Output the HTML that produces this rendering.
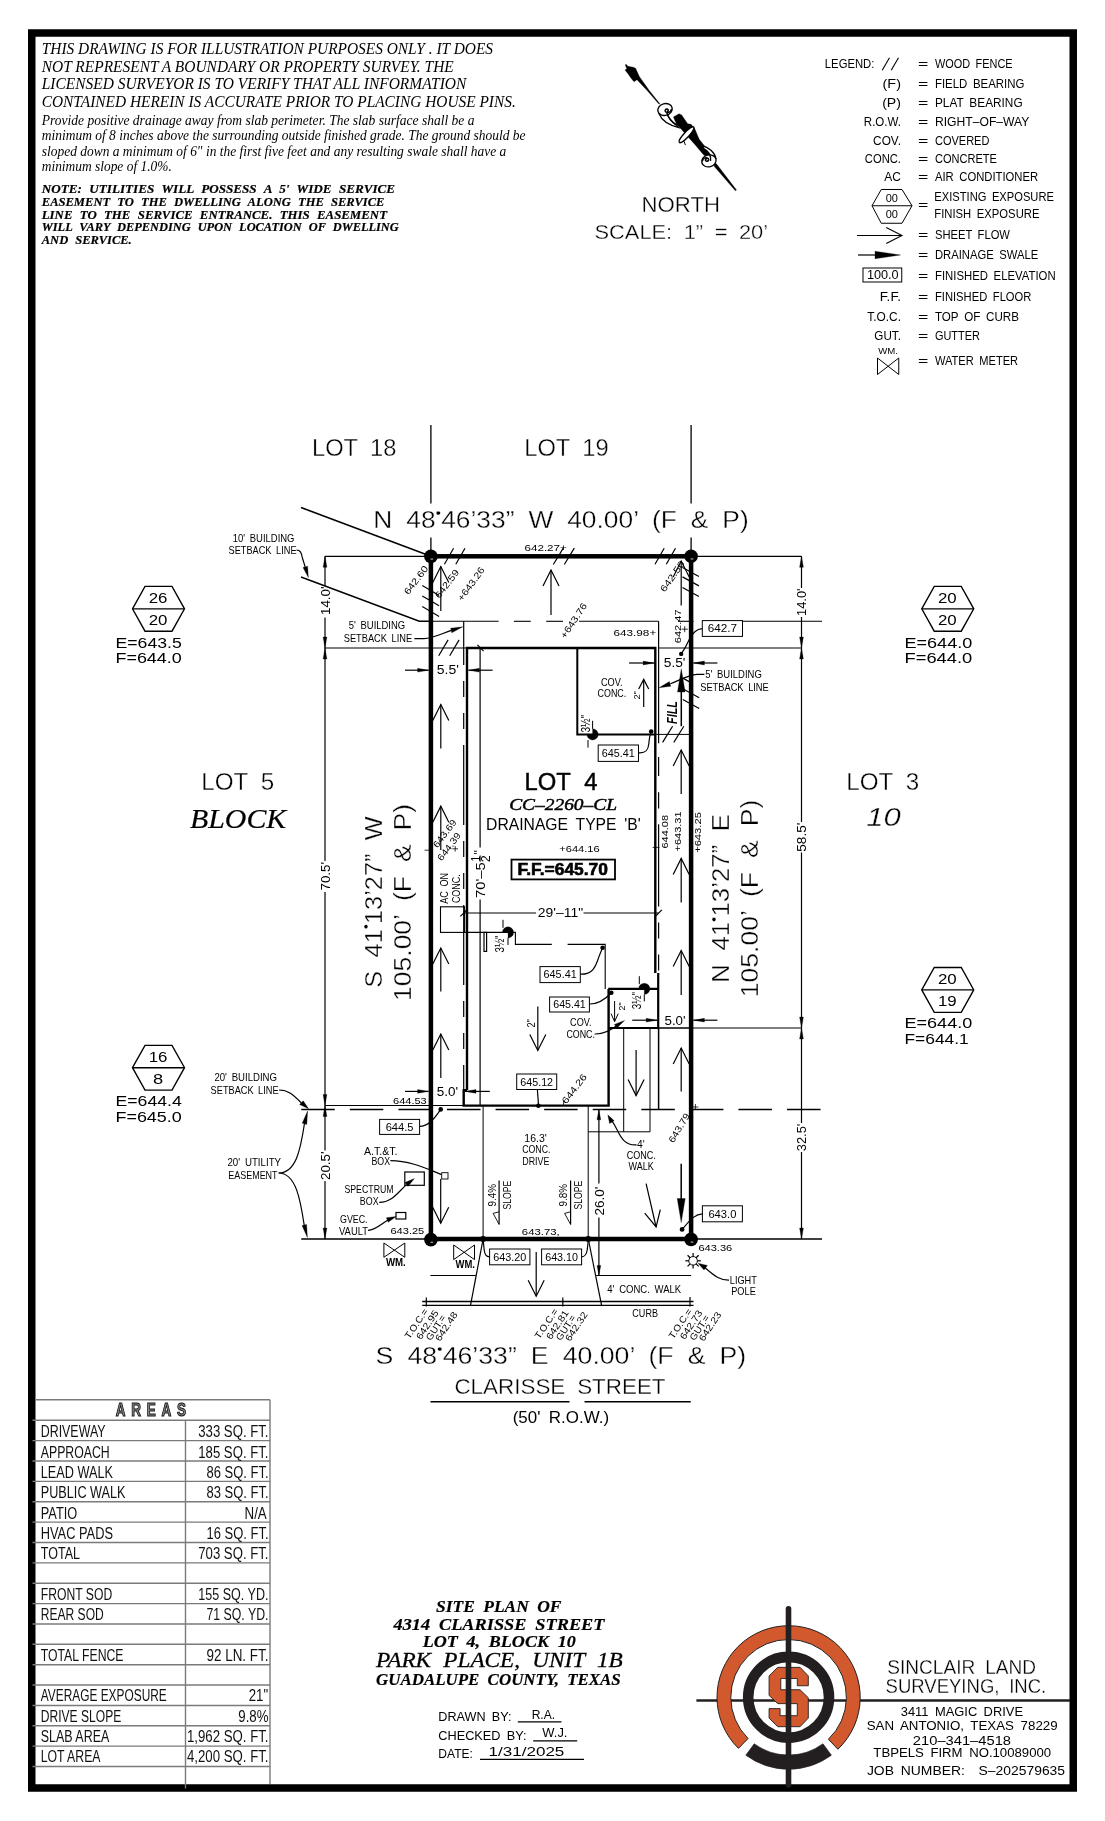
<!DOCTYPE html>
<html lang="en"><head><meta charset="utf-8"><title>Site Plan - 4314 Clarisse Street</title>
<style>
html,body{margin:0;padding:0;background:#fff;}
body{width:1105px;height:1821px;overflow:hidden;font-family:"Liberation Sans",sans-serif;}
svg{display:block;position:absolute;left:0;top:0;will-change:transform;}
text{fill:#000;stroke:none;}
.sa{font-family:"Liberation Sans",sans-serif;word-spacing:0.22em;}
.sab{font-family:"Liberation Sans",sans-serif;font-weight:bold;}
.sam{font-family:"Liberation Sans",sans-serif;stroke:#000;stroke-width:0.45px;word-spacing:0.3em;}
.seim{font-family:"Liberation Serif",serif;font-style:italic;stroke:#000;stroke-width:0.45px;}
.sabx{font-family:"Liberation Sans",sans-serif;font-weight:bold;stroke:#000;stroke-width:0.6px;}
.seim2{font-family:"Liberation Serif",serif;font-style:italic;stroke:#000;stroke-width:0.3px;word-spacing:6px;}
.seim3{font-family:"Liberation Serif",serif;font-style:italic;stroke:#000;stroke-width:0.2px;}
.sabi{font-family:"Liberation Sans",sans-serif;font-weight:bold;font-style:italic;}
.thin{font-family:"Liberation Sans",sans-serif;stroke:#fff;stroke-width:0.34px;word-spacing:0.25em;}
.thin2{font-family:"Liberation Sans",sans-serif;stroke:#fff;stroke-width:0.3px;word-spacing:0.25em;}
.thini{font-family:"Liberation Sans",sans-serif;font-style:italic;stroke:#fff;stroke-width:0.34px;}
.se{font-family:"Liberation Serif",serif;}
.sei{font-family:"Liberation Serif",serif;font-style:italic;}
.sebi{font-family:"Liberation Serif",serif;font-style:italic;font-weight:bold;word-spacing:4px;stroke:#000;stroke-width:0.2px;}
.tb{font-family:"Liberation Sans",sans-serif;fill:#111;}
.areas{font-family:"Liberation Sans",sans-serif;font-weight:bold;fill:#8a8a8a;stroke:#111;stroke-width:1.0px;}
</style></head>
<body>
<svg width="1105" height="1821" viewBox="0 0 1105 1821" stroke="#000" fill="none" stroke-linecap="butt">
<rect x="0" y="0" width="1105" height="1821" fill="#fff" stroke="none"/>
<rect x="31.75" y="33" width="1041.5" height="1755" fill="none" stroke="#000" stroke-width="7.5"/>
<text class="sei" x="41.75" y="54.25" font-size="16.5" textLength="451.25" lengthAdjust="spacingAndGlyphs">THIS DRAWING IS FOR ILLUSTRATION PURPOSES ONLY . IT DOES</text>
<text class="sei" x="41.75" y="71.75" font-size="16.5" textLength="412.00" lengthAdjust="spacingAndGlyphs">NOT REPRESENT A BOUNDARY OR PROPERTY SURVEY. THE</text>
<text class="sei" x="41.75" y="89.25" font-size="16.5" textLength="424.50" lengthAdjust="spacingAndGlyphs">LICENSED SURVEYOR IS TO VERIFY THAT ALL INFORMATION</text>
<text class="sei" x="41.75" y="106.75" font-size="16.5" textLength="474.00" lengthAdjust="spacingAndGlyphs">CONTAINED HEREIN IS ACCURATE PRIOR TO PLACING HOUSE PINS.</text>
<text class="sei" x="41.75" y="125.00" font-size="14" textLength="432.75" lengthAdjust="spacingAndGlyphs">Provide positive drainage away from slab perimeter. The slab surface shall be a</text>
<text class="sei" x="41.75" y="140.20" font-size="14" textLength="483.75" lengthAdjust="spacingAndGlyphs">minimum of 8 inches above the surrounding outside finished grade. The ground should be</text>
<text class="sei" x="41.75" y="155.50" font-size="14" textLength="464.50" lengthAdjust="spacingAndGlyphs">sloped down a minimum of 6" in the first five feet and any resulting swale shall have a</text>
<text class="sei" x="41.75" y="170.80" font-size="14" textLength="130.00" lengthAdjust="spacingAndGlyphs">minimum slope of 1.0%.</text>
<text class="sebi" x="41.75" y="192.50" font-size="12.5" textLength="353.25" lengthAdjust="spacingAndGlyphs" xml:space="preserve">NOTE: UTILITIES WILL POSSESS A 5' WIDE SERVICE</text>
<text class="sebi" x="41.75" y="205.50" font-size="12.5" textLength="342.75" lengthAdjust="spacingAndGlyphs" xml:space="preserve">EASEMENT TO THE DWELLING ALONG THE SERVICE</text>
<text class="sebi" x="41.75" y="218.50" font-size="12.5" textLength="345.25" lengthAdjust="spacingAndGlyphs" xml:space="preserve">LINE TO THE SERVICE ENTRANCE. THIS EASEMENT</text>
<text class="sebi" x="41.75" y="231.25" font-size="12.5" textLength="357.00" lengthAdjust="spacingAndGlyphs" xml:space="preserve">WILL VARY DEPENDING UPON LOCATION OF DWELLING</text>
<text class="sebi" x="41.75" y="244.25" font-size="12.5" textLength="90.00" lengthAdjust="spacingAndGlyphs" xml:space="preserve">AND SERVICE.</text>
<g id="north">
<path d="M625.88,64.05 L627.92,66.31 L633.35,67.22 L635.61,68.35 L639.46,76.72 L649.64,90.97 L659.82,103.64 L659.03,104.32 L646.92,90.29 L636.97,79.66 L634.03,81.70 L631.09,78.30 L628.14,74.00 L624.98,69.93 L626.79,68.80 L625.43,65.41 Z" stroke-width="0.3" fill="#000"/>
<path d="M673.39,116.99 L679.05,113.82 L681.65,114.95 L687.65,123.78 L691.04,124.23 L694.66,128.53 L699.19,139.28 L704.62,146.06 L710.50,153.64 L707.33,157.38 L703.26,154.55 L694.89,144.59 L687.87,136.67 L681.09,129.10 L676.56,124.23 Z" stroke-width="0.3" fill="#000"/>
<path d="M713.67,162.24 L716.38,163.82 L736.52,190.07 L735.38,190.75 L714.34,166.54 Z" stroke-width="0.3" fill="#000"/>
<path d="M659.03,113.82 C661.86,121.18 669.77,125.36 678.82,127.62 L676.56,125.14 C671.47,121.74 668.08,117.78 666.95,112.92 Z " stroke-width="1.3" fill="#fff"/>
<ellipse cx="665.02" cy="109.52" rx="7.3" ry="5.9" transform="rotate(-15 665.02 109.52)" fill="#fff" stroke-width="1.35"/>
<path d="M671.47,109.07 C671.13,112.13 668.08,113.26 665.70,111.90 C664.34,110.66 665.48,108.62 667.51,109.07 C668.87,109.75 668.42,111.56 666.83,111.33 " stroke-width="1.5" fill="none"/>
<path d="M666.83,112.92 C668.08,117.78 671.47,121.74 676.56,125.14 " stroke-width="1.5" fill="none"/>
<ellipse cx="686.52" cy="134.75" rx="10.6" ry="2.6" transform="rotate(-47 686.52 134.75)" fill="#fff" stroke-width="1.35"/>
<line x1="684.03" y1="141.20" x2="685.38" y2="145.05" stroke-width="1.0"/>
<path d="M715.93,158.51 C714.80,152.29 708.46,147.19 701.67,145.50 L704.28,149.12 C709.37,152.29 711.18,156.81 710.50,160.77 Z " stroke-width="1.3" fill="#fff"/>
<ellipse cx="708.91" cy="160.88" rx="7.3" ry="5.9" transform="rotate(-15 708.91 160.88)" fill="#fff" stroke-width="1.35"/>
<path d="M702.35,161.33 C702.58,158.17 705.75,157.04 708.01,158.39 C709.37,159.75 708.24,161.79 706.20,161.11 C704.84,160.43 705.52,158.62 706.88,159.07 " stroke-width="1.5" fill="none"/>
<path d="M710.50,160.77 C711.18,156.81 709.37,152.29 704.28,149.12 " stroke-width="1.5" fill="none"/>
</g>
<text class="thin" x="641.62" y="212.40" font-size="22.6" textLength="78.36" lengthAdjust="spacingAndGlyphs">NORTH</text>
<text class="thin" x="594.53" y="239.30" font-size="21" textLength="173.54" lengthAdjust="spacingAndGlyphs" xml:space="preserve">SCALE: 1” = 20’</text>
<text class="sa" x="824.85" y="68.00" font-size="13" textLength="49.55" lengthAdjust="spacingAndGlyphs">LEGEND:</text>
<line x1="882.20" y1="70.20" x2="889.50" y2="57.80" stroke-width="1.1"/>
<line x1="891.20" y1="70.20" x2="898.50" y2="57.80" stroke-width="1.1"/>
<text class="sa" x="917.95" y="68.00" font-size="13" textLength="10.30" lengthAdjust="spacingAndGlyphs">=</text>
<text class="sa" x="934.95" y="68.00" font-size="13" textLength="77.70" lengthAdjust="spacingAndGlyphs">WOOD FENCE</text>
<text class="sa" x="882.55" y="87.50" font-size="13" textLength="18.40" lengthAdjust="spacingAndGlyphs">(F)</text>
<text class="sa" x="917.95" y="87.50" font-size="13" textLength="10.30" lengthAdjust="spacingAndGlyphs">=</text>
<text class="sa" x="934.95" y="87.50" font-size="13" textLength="89.45" lengthAdjust="spacingAndGlyphs">FIELD BEARING</text>
<text class="sa" x="882.15" y="107.00" font-size="13" textLength="18.80" lengthAdjust="spacingAndGlyphs">(P)</text>
<text class="sa" x="917.95" y="107.00" font-size="13" textLength="10.30" lengthAdjust="spacingAndGlyphs">=</text>
<text class="sa" x="934.95" y="107.00" font-size="13" textLength="87.70" lengthAdjust="spacingAndGlyphs">PLAT BEARING</text>
<text class="sa" x="863.85" y="126.25" font-size="13" textLength="37.10" lengthAdjust="spacingAndGlyphs">R.O.W.</text>
<text class="sa" x="917.95" y="126.25" font-size="13" textLength="10.30" lengthAdjust="spacingAndGlyphs">=</text>
<text class="sa" x="934.95" y="126.25" font-size="13" textLength="94.45" lengthAdjust="spacingAndGlyphs">RIGHT–OF–WAY</text>
<text class="sa" x="873.10" y="144.50" font-size="13" textLength="27.85" lengthAdjust="spacingAndGlyphs">COV.</text>
<text class="sa" x="917.95" y="144.50" font-size="13" textLength="10.30" lengthAdjust="spacingAndGlyphs">=</text>
<text class="sa" x="934.95" y="144.50" font-size="13" textLength="54.45" lengthAdjust="spacingAndGlyphs">COVERED</text>
<text class="sa" x="864.85" y="163.00" font-size="13" textLength="36.10" lengthAdjust="spacingAndGlyphs">CONC.</text>
<text class="sa" x="917.95" y="163.00" font-size="13" textLength="10.30" lengthAdjust="spacingAndGlyphs">=</text>
<text class="sa" x="934.95" y="163.00" font-size="13" textLength="61.95" lengthAdjust="spacingAndGlyphs">CONCRETE</text>
<text class="sa" x="884.35" y="181.25" font-size="13" textLength="16.60" lengthAdjust="spacingAndGlyphs">AC</text>
<text class="sa" x="917.95" y="181.25" font-size="13" textLength="10.30" lengthAdjust="spacingAndGlyphs">=</text>
<text class="sa" x="934.95" y="181.25" font-size="13" textLength="103.20" lengthAdjust="spacingAndGlyphs">AIR CONDITIONER</text>
<path d="M872.00,205.75 L881.25,189.50 L902.00,189.50 L912.00,205.75 L902.00,223.25 L881.25,223.25 Z" stroke-width="1.0" fill="none"/>
<line x1="872.00" y1="205.75" x2="912.00" y2="205.75" stroke-width="1.0"/>
<text class="sa" x="891.75" y="202.40" font-size="11" text-anchor="middle">00</text>
<text class="sa" x="891.75" y="218.30" font-size="11" text-anchor="middle">00</text>
<text class="sa" x="917.95" y="209.30" font-size="13" textLength="10.30" lengthAdjust="spacingAndGlyphs">=</text>
<text class="sa" x="934.35" y="200.75" font-size="13" textLength="119.55" lengthAdjust="spacingAndGlyphs">EXISTING EXPOSURE</text>
<text class="sa" x="934.35" y="217.50" font-size="13" textLength="105.05" lengthAdjust="spacingAndGlyphs">FINISH EXPOSURE</text>
<line x1="857.00" y1="235.50" x2="902.00" y2="235.50" stroke-width="1.1"/>
<path d="M886.25,243.60 L902.00,235.50 L886.25,227.40" stroke-width="1.1" fill="none"/>
<text class="sa" x="917.95" y="239.25" font-size="13" textLength="10.30" lengthAdjust="spacingAndGlyphs">=</text>
<text class="sa" x="934.95" y="239.25" font-size="13" textLength="74.95" lengthAdjust="spacingAndGlyphs">SHEET FLOW</text>
<line x1="858.00" y1="255.00" x2="876.00" y2="255.00" stroke-width="1.2"/>
<path d="M900.50,255.00 L875.00,251.20 L875.00,258.80 Z" stroke-width="0.3" fill="#000"/>
<text class="sa" x="917.95" y="258.75" font-size="13" textLength="10.30" lengthAdjust="spacingAndGlyphs">=</text>
<text class="sa" x="934.95" y="258.75" font-size="13" textLength="103.20" lengthAdjust="spacingAndGlyphs">DRAINAGE SWALE</text>
<rect x="863.00" y="268.00" width="38.75" height="14.00" stroke-width="1.0" fill="none"/>
<text class="sa" x="866.90" y="279.40" font-size="12" textLength="31.70" lengthAdjust="spacingAndGlyphs">100.0</text>
<text class="sa" x="917.95" y="279.50" font-size="13" textLength="10.30" lengthAdjust="spacingAndGlyphs">=</text>
<text class="sa" x="934.95" y="279.50" font-size="13" textLength="120.70" lengthAdjust="spacingAndGlyphs">FINISHED ELEVATION</text>
<text class="sa" x="879.85" y="301.25" font-size="13" textLength="21.10" lengthAdjust="spacingAndGlyphs">F.F.</text>
<text class="sa" x="917.95" y="301.25" font-size="13" textLength="10.30" lengthAdjust="spacingAndGlyphs">=</text>
<text class="sa" x="934.95" y="301.25" font-size="13" textLength="96.45" lengthAdjust="spacingAndGlyphs">FINISHED FLOOR</text>
<text class="sa" x="867.35" y="321.25" font-size="13" textLength="33.60" lengthAdjust="spacingAndGlyphs">T.O.C.</text>
<text class="sa" x="917.95" y="321.25" font-size="13" textLength="10.30" lengthAdjust="spacingAndGlyphs">=</text>
<text class="sa" x="934.95" y="321.25" font-size="13" textLength="83.95" lengthAdjust="spacingAndGlyphs">TOP OF CURB</text>
<text class="sa" x="874.35" y="340.00" font-size="13" textLength="26.60" lengthAdjust="spacingAndGlyphs">GUT.</text>
<text class="sa" x="917.95" y="340.00" font-size="13" textLength="10.30" lengthAdjust="spacingAndGlyphs">=</text>
<text class="sa" x="934.95" y="340.00" font-size="13" textLength="44.95" lengthAdjust="spacingAndGlyphs">GUTTER</text>
<text class="sa" x="878.27" y="353.75" font-size="9.5" textLength="19.70" lengthAdjust="spacingAndGlyphs">WM.</text>
<path d="M877.50,358.00 L898.75,374.50 L898.75,358.00 L877.50,374.50 Z" stroke-width="1.0" fill="none"/>
<text class="sa" x="917.95" y="365.00" font-size="13" textLength="10.30" lengthAdjust="spacingAndGlyphs">=</text>
<text class="sa" x="934.95" y="365.00" font-size="13" textLength="83.20" lengthAdjust="spacingAndGlyphs">WATER METER</text>
<text class="thin" x="312.06" y="455.50" font-size="24.2" textLength="84.39" lengthAdjust="spacingAndGlyphs">LOT 18</text>
<text class="thin" x="524.31" y="455.50" font-size="24.2" textLength="84.39" lengthAdjust="spacingAndGlyphs">LOT 19</text>
<text class="thin" x="201.31" y="790.00" font-size="24.2" textLength="72.89" lengthAdjust="spacingAndGlyphs">LOT 5</text>
<text class="seim3" x="190.00" y="828.00" font-size="27" textLength="96.25" lengthAdjust="spacingAndGlyphs">BLOCK</text>
<text class="thin" x="846.31" y="790.00" font-size="24.2" textLength="72.89" lengthAdjust="spacingAndGlyphs">LOT 3</text>
<text class="thini" x="866.30" y="826.20" font-size="26" textLength="34.50" lengthAdjust="spacingAndGlyphs">10</text>
<text class="thin" x="373.31" y="528.00" font-size="24.2" textLength="375.39" lengthAdjust="spacingAndGlyphs" xml:space="preserve">N 48<tspan font-size="14.52" dy="-10.41">•</tspan><tspan dy="10.41">46’33” W 40.00’ (F &amp; P)</tspan></text>
<text class="thin" x="375.56" y="1364.25" font-size="24.2" textLength="370.64" lengthAdjust="spacingAndGlyphs" xml:space="preserve">S 48<tspan font-size="14.52" dy="-10.41">•</tspan><tspan dy="10.41">46’33” E 40.00’ (F &amp; P)</tspan></text>
<text class="thin" transform="translate(381.60,987.72) rotate(-90.00)" font-size="24.6" textLength="171.44" lengthAdjust="spacingAndGlyphs">S 41<tspan font-size="14.76" dy="-10.58">•</tspan><tspan dy="10.58">13’27” W</tspan></text>
<text class="thin" transform="translate(410.50,1000.92) rotate(-90.00)" font-size="24.6" textLength="197.04" lengthAdjust="spacingAndGlyphs">105.00’ (F &amp; P)</text>
<text class="thin" transform="translate(729.20,982.72) rotate(-90.00)" font-size="24.6" textLength="168.64" lengthAdjust="spacingAndGlyphs">N 41<tspan font-size="14.76" dy="-10.58">•</tspan><tspan dy="10.58">13’27” E</tspan></text>
<text class="thin" transform="translate(758.20,997.22) rotate(-90.00)" font-size="24.6" textLength="197.64" lengthAdjust="spacingAndGlyphs">105.00’ (F &amp; P)</text>
<text class="thin" x="454.42" y="1394.40" font-size="22.6" textLength="211.16" lengthAdjust="spacingAndGlyphs">CLARISSE STREET</text>
<line x1="430.50" y1="1401.75" x2="569.50" y2="1401.75" stroke-width="1.4"/>
<line x1="584.50" y1="1401.75" x2="690.75" y2="1401.75" stroke-width="1.4"/>
<text class="sa" x="512.69" y="1423.20" font-size="16.2" textLength="96.37" lengthAdjust="spacingAndGlyphs">(50' R.O.W.)</text>
<path d="M132.50,608.80 L145.00,586.40 L172.00,586.40 L184.50,608.80 L172.00,631.20 L145.00,631.20 Z" stroke-width="1.35" fill="none"/>
<line x1="132.50" y1="608.80" x2="184.50" y2="608.80" stroke-width="1.35"/>
<text class="sa" x="148.72" y="603.38" font-size="15.5" textLength="18.75" lengthAdjust="spacingAndGlyphs">26</text>
<text class="sa" x="148.72" y="624.98" font-size="15.5" textLength="18.75" lengthAdjust="spacingAndGlyphs">20</text>
<text class="sa" x="115.47" y="648.20" font-size="15.5" textLength="66.30" lengthAdjust="spacingAndGlyphs">E=643.5</text>
<text class="sa" x="115.47" y="663.40" font-size="15.5" textLength="66.30" lengthAdjust="spacingAndGlyphs">F=644.0</text>
<path d="M921.75,608.80 L934.25,586.40 L961.25,586.40 L973.75,608.80 L961.25,631.20 L934.25,631.20 Z" stroke-width="1.35" fill="none"/>
<line x1="921.75" y1="608.80" x2="973.75" y2="608.80" stroke-width="1.35"/>
<text class="sa" x="937.98" y="603.38" font-size="15.5" textLength="18.75" lengthAdjust="spacingAndGlyphs">20</text>
<text class="sa" x="937.98" y="624.98" font-size="15.5" textLength="18.75" lengthAdjust="spacingAndGlyphs">20</text>
<text class="sa" x="904.48" y="648.20" font-size="15.5" textLength="67.80" lengthAdjust="spacingAndGlyphs">E=644.0</text>
<text class="sa" x="904.48" y="663.40" font-size="15.5" textLength="67.80" lengthAdjust="spacingAndGlyphs">F=644.0</text>
<path d="M132.50,1067.70 L145.00,1045.30 L172.00,1045.30 L184.50,1067.70 L172.00,1090.10 L145.00,1090.10 Z" stroke-width="1.35" fill="none"/>
<line x1="132.50" y1="1067.70" x2="184.50" y2="1067.70" stroke-width="1.35"/>
<text class="sa" x="148.72" y="1062.28" font-size="15.5" textLength="18.75" lengthAdjust="spacingAndGlyphs">16</text>
<text class="sa" x="153.02" y="1083.88" font-size="15.5" textLength="10.15" lengthAdjust="spacingAndGlyphs">8</text>
<text class="sa" x="115.47" y="1106.25" font-size="15.5" textLength="66.30" lengthAdjust="spacingAndGlyphs">E=644.4</text>
<text class="sa" x="115.47" y="1122.00" font-size="15.5" textLength="66.30" lengthAdjust="spacingAndGlyphs">F=645.0</text>
<path d="M921.75,989.90 L934.25,967.50 L961.25,967.50 L973.75,989.90 L961.25,1012.30 L934.25,1012.30 Z" stroke-width="1.35" fill="none"/>
<line x1="921.75" y1="989.90" x2="973.75" y2="989.90" stroke-width="1.35"/>
<text class="sa" x="937.98" y="984.48" font-size="15.5" textLength="18.75" lengthAdjust="spacingAndGlyphs">20</text>
<text class="sa" x="937.98" y="1006.08" font-size="15.5" textLength="18.75" lengthAdjust="spacingAndGlyphs">19</text>
<text class="sa" x="904.48" y="1028.00" font-size="15.5" textLength="67.80" lengthAdjust="spacingAndGlyphs">E=644.0</text>
<text class="sa" x="904.48" y="1043.75" font-size="15.5" textLength="64.30" lengthAdjust="spacingAndGlyphs">F=644.1</text>
<line x1="430.90" y1="425.00" x2="430.90" y2="503.50" stroke-width="1.3"/>
<line x1="430.90" y1="537.50" x2="430.90" y2="556.30" stroke-width="1.3"/>
<line x1="691.10" y1="425.00" x2="691.10" y2="503.50" stroke-width="1.3"/>
<line x1="691.10" y1="537.50" x2="691.10" y2="556.30" stroke-width="1.3"/>
<line x1="301.00" y1="507.50" x2="430.90" y2="556.30" stroke-width="1.6"/>
<path d="M301.00,577.00 L419.30,621.30 L430.90,621.30" stroke-width="1.5" fill="none"/>
<line x1="325.00" y1="556.30" x2="430.90" y2="556.30" stroke-width="1.2"/>
<line x1="325.00" y1="648.00" x2="466.00" y2="648.00" stroke-width="1.2"/>
<line x1="325.00" y1="1105.50" x2="464.00" y2="1105.50" stroke-width="1.2"/>
<line x1="325.00" y1="556.30" x2="325.00" y2="586.00" stroke-width="1.2"/>
<line x1="325.00" y1="617.50" x2="325.00" y2="648.00" stroke-width="1.2"/>
<path d="M325.00,556.30 L326.90,567.30 L323.10,567.30 Z" stroke-width="0.3" fill="#000"/>
<path d="M325.00,648.00 L323.10,637.00 L326.90,637.00 Z" stroke-width="0.3" fill="#000"/>
<text class="sa" transform="translate(329.60,615.00) rotate(-90.00)" font-size="12.5" textLength="28.50" lengthAdjust="spacingAndGlyphs">14.0'</text>
<line x1="325.00" y1="648.00" x2="325.00" y2="861.00" stroke-width="1.2"/>
<line x1="325.00" y1="892.00" x2="325.00" y2="1105.50" stroke-width="1.2"/>
<path d="M325.00,648.00 L326.90,659.00 L323.10,659.00 Z" stroke-width="0.3" fill="#000"/>
<path d="M325.00,1105.50 L323.10,1094.50 L326.90,1094.50 Z" stroke-width="0.3" fill="#000"/>
<text class="sa" transform="translate(329.60,890.50) rotate(-90.00)" font-size="12.5" textLength="28.50" lengthAdjust="spacingAndGlyphs">70.5'</text>
<line x1="325.00" y1="1105.50" x2="325.00" y2="1150.50" stroke-width="1.2"/>
<line x1="325.00" y1="1181.00" x2="325.00" y2="1239.00" stroke-width="1.2"/>
<path d="M325.00,1105.50 L326.90,1116.50 L323.10,1116.50 Z" stroke-width="0.3" fill="#000"/>
<path d="M325.00,1239.00 L323.10,1228.00 L326.90,1228.00 Z" stroke-width="0.3" fill="#000"/>
<text class="sa" transform="translate(329.60,1180.00) rotate(-90.00)" font-size="12.5" textLength="28.50" lengthAdjust="spacingAndGlyphs">20.5'</text>
<line x1="301.25" y1="1239.00" x2="430.90" y2="1239.00" stroke-width="1.5"/>
<line x1="691.10" y1="556.30" x2="801.50" y2="556.30" stroke-width="1.2"/>
<line x1="658.50" y1="648.00" x2="801.50" y2="648.00" stroke-width="1.2"/>
<line x1="652.00" y1="1028.00" x2="801.50" y2="1028.00" stroke-width="1.2"/>
<line x1="691.10" y1="1239.00" x2="822.00" y2="1239.00" stroke-width="1.5"/>
<line x1="801.50" y1="556.30" x2="801.50" y2="588.00" stroke-width="1.2"/>
<line x1="801.50" y1="617.00" x2="801.50" y2="648.00" stroke-width="1.2"/>
<path d="M801.50,556.30 L803.40,567.30 L799.60,567.30 Z" stroke-width="0.3" fill="#000"/>
<path d="M801.50,648.00 L799.60,637.00 L803.40,637.00 Z" stroke-width="0.3" fill="#000"/>
<text class="sa" transform="translate(805.80,616.00) rotate(-90.00)" font-size="12.5" textLength="27.50" lengthAdjust="spacingAndGlyphs">14.0'</text>
<line x1="801.50" y1="648.00" x2="801.50" y2="822.00" stroke-width="1.2"/>
<line x1="801.50" y1="852.50" x2="801.50" y2="1028.00" stroke-width="1.2"/>
<path d="M801.50,648.00 L803.40,659.00 L799.60,659.00 Z" stroke-width="0.3" fill="#000"/>
<path d="M801.50,1028.00 L799.60,1017.00 L803.40,1017.00 Z" stroke-width="0.3" fill="#000"/>
<text class="sa" transform="translate(805.80,851.70) rotate(-90.00)" font-size="12.5" textLength="29.00" lengthAdjust="spacingAndGlyphs">58.5'</text>
<line x1="801.50" y1="1028.00" x2="801.50" y2="1123.00" stroke-width="1.2"/>
<line x1="801.50" y1="1152.00" x2="801.50" y2="1239.00" stroke-width="1.2"/>
<path d="M801.50,1028.00 L803.40,1039.00 L799.60,1039.00 Z" stroke-width="0.3" fill="#000"/>
<path d="M801.50,1239.00 L799.60,1228.00 L803.40,1228.00 Z" stroke-width="0.3" fill="#000"/>
<text class="sa" transform="translate(805.80,1151.25) rotate(-90.00)" font-size="12.5" textLength="27.50" lengthAdjust="spacingAndGlyphs">32.5'</text>
<line x1="430.90" y1="621.30" x2="498.60" y2="621.30" stroke-width="1.1"/>
<line x1="513.90" y1="621.30" x2="530.80" y2="621.30" stroke-width="1.1"/>
<line x1="546.20" y1="621.30" x2="563.00" y2="621.30" stroke-width="1.1"/>
<line x1="579.00" y1="621.30" x2="658.60" y2="621.30" stroke-width="1.1"/>
<line x1="678.00" y1="621.30" x2="693.50" y2="621.30" stroke-width="1.1"/>
<line x1="742.00" y1="621.30" x2="822.00" y2="621.30" stroke-width="1.1"/>
<line x1="463.70" y1="621.30" x2="463.70" y2="664.90" stroke-width="1.2"/>
<line x1="463.70" y1="680.90" x2="463.70" y2="696.90" stroke-width="1.2"/>
<line x1="463.70" y1="712.90" x2="463.70" y2="728.90" stroke-width="1.2"/>
<line x1="463.70" y1="744.90" x2="463.70" y2="824.90" stroke-width="1.2"/>
<line x1="463.70" y1="840.90" x2="463.70" y2="856.90" stroke-width="1.2"/>
<line x1="463.70" y1="872.90" x2="463.70" y2="888.90" stroke-width="1.2"/>
<line x1="463.70" y1="904.90" x2="463.70" y2="984.90" stroke-width="1.2"/>
<line x1="463.70" y1="1000.90" x2="463.70" y2="1016.90" stroke-width="1.2"/>
<line x1="463.70" y1="1032.90" x2="463.70" y2="1048.90" stroke-width="1.2"/>
<line x1="463.70" y1="1064.90" x2="463.70" y2="1092.00" stroke-width="1.2"/>
<line x1="658.60" y1="621.30" x2="658.60" y2="743.30" stroke-width="1.2"/>
<line x1="658.60" y1="757.00" x2="658.60" y2="776.00" stroke-width="1.2"/>
<line x1="658.60" y1="792.30" x2="658.60" y2="808.60" stroke-width="1.2"/>
<line x1="658.60" y1="824.20" x2="658.60" y2="906.50" stroke-width="1.2"/>
<line x1="658.60" y1="922.50" x2="658.60" y2="938.50" stroke-width="1.2"/>
<line x1="658.60" y1="954.50" x2="658.60" y2="970.50" stroke-width="1.2"/>
<line x1="658.20" y1="973.00" x2="658.20" y2="1028.00" stroke-width="2.2"/>
<line x1="658.60" y1="1028.00" x2="658.60" y2="1109.50" stroke-width="1.5"/>
<path d="M301.25,1109.5 H822" stroke-width="1.5" fill="none" stroke-dasharray="33.5 15.08"/>
<path d="M467.0,1090.1 V648.0 H655.3 V973" stroke-width="2.4" fill="none"/>
<path d="M467.0,1090.1 H463.7 V1105.6 H608.6 V989" stroke-width="2.4" fill="none"/>
<path d="M577.3,648 V734.4 H655.3" stroke-width="2.0" fill="none"/>
<line x1="655.30" y1="734.40" x2="691.10" y2="734.40" stroke-width="1.0"/>
<path d="M608.2,988.8 H658.6" stroke-width="2.3" fill="none"/>
<path d="M608.2,1028 H658.6" stroke-width="2.2" fill="none"/>
<line x1="658.60" y1="1028.00" x2="691.10" y2="1028.00" stroke-width="1.0"/>
<rect x="440.50" y="906.80" width="24.10" height="25.60" stroke-width="1.1" fill="none"/>
<path d="M464,932.4 H515.4 V944.4 H551.8 M567.6,944.4 H605.2 V989" stroke-width="1.1" fill="none"/>
<rect x="484.00" y="932.40" width="2.60" height="19.00" stroke-width="1.2" fill="none"/>
<path d="M623.7,1028 V1131.8 M650,1028 V1131.8" stroke-width="1.0" fill="none"/>
<line x1="588.20" y1="1131.80" x2="650.00" y2="1131.80" stroke-width="1.0"/>
<line x1="483.10" y1="1105.60" x2="483.10" y2="1239.00" stroke-width="1.0"/>
<line x1="588.20" y1="1105.60" x2="588.20" y2="1239.00" stroke-width="1.0"/>
<line x1="480.10" y1="648.00" x2="480.10" y2="847.50" stroke-width="1.2"/>
<line x1="480.10" y1="899.60" x2="480.10" y2="1105.60" stroke-width="1.2"/>
<line x1="477.40" y1="644.80" x2="483.60" y2="651.20" stroke-width="1.2"/>
<text class="sa" transform="translate(484.60,898.00) rotate(-90.00)" font-size="12.8" textLength="35.60" lengthAdjust="spacingAndGlyphs">70'–5</text>
<text class="sa" transform="translate(479.50,861.60) rotate(-90.00)" font-size="12.2" textLength="5.60" lengthAdjust="spacingAndGlyphs">1</text>
<text class="sa" transform="translate(490.00,862.20) rotate(-90.00)" font-size="12.2" textLength="7.00" lengthAdjust="spacingAndGlyphs">2</text>
<line x1="480.20" y1="861.80" x2="480.20" y2="855.40" stroke-width="0.9"/>
<text class="sa" transform="translate(483.10,854.40) rotate(-90.00)" font-size="12.2">"</text>
<line x1="463.70" y1="913.00" x2="536.00" y2="913.00" stroke-width="1.2"/>
<line x1="583.50" y1="913.00" x2="658.60" y2="913.00" stroke-width="1.2"/>
<line x1="460.40" y1="916.40" x2="466.80" y2="909.80" stroke-width="1.2"/>
<line x1="655.40" y1="916.40" x2="661.80" y2="909.80" stroke-width="1.2"/>
<text class="sa" x="537.88" y="917.40" font-size="12.5" textLength="45.25" lengthAdjust="spacingAndGlyphs">29'–11"</text>
<line x1="405.00" y1="670.20" x2="428.60" y2="670.20" stroke-width="1.2"/>
<path d="M428.60,670.20 L417.60,672.10 L417.60,668.30 Z" stroke-width="0.3" fill="#000"/>
<line x1="492.60" y1="670.20" x2="468.40" y2="670.20" stroke-width="1.2"/>
<path d="M468.40,670.20 L479.40,668.30 L479.40,672.10 Z" stroke-width="0.3" fill="#000"/>
<text class="sa" x="436.80" y="674.40" font-size="12" textLength="22.10" lengthAdjust="spacingAndGlyphs">5.5'</text>
<line x1="629.10" y1="663.00" x2="654.20" y2="663.00" stroke-width="1.2"/>
<path d="M654.20,663.00 L643.20,664.90 L643.20,661.10 Z" stroke-width="0.3" fill="#000"/>
<line x1="717.40" y1="663.00" x2="693.40" y2="663.00" stroke-width="1.2"/>
<path d="M693.40,663.00 L704.40,661.10 L704.40,664.90 Z" stroke-width="0.3" fill="#000"/>
<text class="sa" x="663.80" y="666.90" font-size="12" textLength="21.70" lengthAdjust="spacingAndGlyphs">5.5'</text>
<line x1="405.00" y1="1091.40" x2="428.60" y2="1091.40" stroke-width="1.2"/>
<path d="M428.60,1091.40 L417.60,1093.30 L417.60,1089.50 Z" stroke-width="0.3" fill="#000"/>
<line x1="489.80" y1="1091.40" x2="465.00" y2="1091.40" stroke-width="1.2"/>
<path d="M465.00,1091.40 L476.00,1089.50 L476.00,1093.30 Z" stroke-width="0.3" fill="#000"/>
<text class="sa" x="436.80" y="1095.80" font-size="12" textLength="21.30" lengthAdjust="spacingAndGlyphs">5.0'</text>
<line x1="632.20" y1="1020.20" x2="657.20" y2="1020.20" stroke-width="1.2"/>
<path d="M657.20,1020.20 L646.20,1022.10 L646.20,1018.30 Z" stroke-width="0.3" fill="#000"/>
<line x1="717.40" y1="1020.20" x2="693.40" y2="1020.20" stroke-width="1.2"/>
<path d="M693.40,1020.20 L704.40,1018.30 L704.40,1022.10 Z" stroke-width="0.3" fill="#000"/>
<text class="sa" x="664.50" y="1024.60" font-size="12" textLength="21.10" lengthAdjust="spacingAndGlyphs">5.0'</text>
<line x1="440.80" y1="611.00" x2="440.80" y2="566.50" stroke-width="1.2"/>
<path d="M448.80,582.50 L440.80,566.50 L432.80,582.50" stroke-width="1.2" fill="none"/>
<line x1="440.80" y1="748.60" x2="440.80" y2="704.60" stroke-width="1.2"/>
<path d="M448.80,720.60 L440.80,704.60 L432.80,720.60" stroke-width="1.2" fill="none"/>
<line x1="440.80" y1="850.00" x2="440.80" y2="806.20" stroke-width="1.2"/>
<path d="M448.80,822.20 L440.80,806.20 L432.80,822.20" stroke-width="1.2" fill="none"/>
<line x1="440.80" y1="991.60" x2="440.80" y2="948.00" stroke-width="1.2"/>
<path d="M448.80,964.00 L440.80,948.00 L432.80,964.00" stroke-width="1.2" fill="none"/>
<line x1="440.80" y1="1078.00" x2="440.80" y2="1034.00" stroke-width="1.2"/>
<path d="M448.80,1050.00 L440.80,1034.00 L432.80,1050.00" stroke-width="1.2" fill="none"/>
<line x1="440.70" y1="1179.00" x2="440.70" y2="1223.20" stroke-width="1.2"/>
<path d="M432.70,1207.20 L440.70,1223.20 L448.70,1207.20" stroke-width="1.2" fill="none"/>
<line x1="681.20" y1="605.40" x2="681.20" y2="561.00" stroke-width="1.2"/>
<path d="M689.20,577.00 L681.20,561.00 L673.20,577.00" stroke-width="1.2" fill="none"/>
<line x1="681.20" y1="794.00" x2="681.20" y2="750.00" stroke-width="1.2"/>
<path d="M689.20,766.00 L681.20,750.00 L673.20,766.00" stroke-width="1.2" fill="none"/>
<line x1="681.20" y1="902.60" x2="681.20" y2="858.40" stroke-width="1.2"/>
<path d="M689.20,874.40 L681.20,858.40 L673.20,874.40" stroke-width="1.2" fill="none"/>
<line x1="681.20" y1="995.00" x2="681.20" y2="950.60" stroke-width="1.2"/>
<path d="M689.20,966.60 L681.20,950.60 L673.20,966.60" stroke-width="1.2" fill="none"/>
<line x1="681.20" y1="1091.60" x2="681.20" y2="1048.00" stroke-width="1.2"/>
<path d="M689.20,1064.00 L681.20,1048.00 L673.20,1064.00" stroke-width="1.2" fill="none"/>
<line x1="551.00" y1="615.00" x2="551.00" y2="570.00" stroke-width="1.2"/>
<path d="M559.00,586.00 L551.00,570.00 L543.00,586.00" stroke-width="1.2" fill="none"/>
<line x1="643.70" y1="707.00" x2="643.70" y2="679.40" stroke-width="1.2"/>
<path d="M648.70,689.00 L643.70,679.40 L638.70,689.00" stroke-width="1.2" fill="none"/>
<line x1="537.80" y1="1006.40" x2="537.80" y2="1050.40" stroke-width="1.2"/>
<path d="M529.80,1034.40 L537.80,1050.40 L545.80,1034.40" stroke-width="1.2" fill="none"/>
<line x1="614.60" y1="1001.00" x2="614.60" y2="1021.60" stroke-width="1.0"/>
<path d="M611.00,1013.60 L614.60,1021.60 L618.20,1013.60" stroke-width="1.0" fill="none"/>
<line x1="636.10" y1="1050.00" x2="636.10" y2="1095.60" stroke-width="1.2"/>
<path d="M628.10,1079.60 L636.10,1095.60 L644.10,1079.60" stroke-width="1.2" fill="none"/>
<line x1="536.20" y1="1252.00" x2="536.20" y2="1296.20" stroke-width="1.2"/>
<path d="M528.20,1280.20 L536.20,1296.20 L544.20,1280.20" stroke-width="1.2" fill="none"/>
<line x1="646.10" y1="1183.60" x2="656.10" y2="1227.00" stroke-width="1.2"/>
<path d="M644.71,1213.20 L656.10,1227.00 L660.30,1209.61" stroke-width="1.2" fill="none"/>
<line x1="681.30" y1="691.00" x2="681.30" y2="726.20" stroke-width="1.5"/>
<path d="M681.30,668.80 L677.50,692.00 L685.10,692.00 Z" stroke-width="0.3" fill="#000"/>
<line x1="681.20" y1="1163.70" x2="681.20" y2="1199.00" stroke-width="1.5"/>
<path d="M681.20,1222.60 L677.20,1198.50 L685.20,1198.50 Z" stroke-width="0.3" fill="#000"/>
<text class="sabi" transform="translate(676.80,724.00) rotate(-90.00)" font-size="15.5" textLength="23.00" lengthAdjust="spacingAndGlyphs">FILL</text>
<line x1="444.40" y1="564.30" x2="453.60" y2="548.30" stroke-width="1.2"/>
<line x1="455.80" y1="564.30" x2="465.00" y2="548.30" stroke-width="1.2"/>
<line x1="655.00" y1="564.30" x2="664.20" y2="548.30" stroke-width="1.2"/>
<line x1="666.30" y1="564.30" x2="675.50" y2="548.30" stroke-width="1.2"/>
<line x1="553.30" y1="564.50" x2="563.30" y2="548.10" stroke-width="1.2"/>
<line x1="564.30" y1="564.50" x2="574.30" y2="548.10" stroke-width="1.2"/>
<line x1="422.30" y1="585.60" x2="439.10" y2="595.40" stroke-width="1.2"/>
<line x1="422.30" y1="595.90" x2="439.10" y2="605.70" stroke-width="1.2"/>
<line x1="422.30" y1="606.60" x2="439.10" y2="616.40" stroke-width="1.2"/>
<line x1="682.50" y1="567.50" x2="698.90" y2="576.50" stroke-width="1.2"/>
<line x1="682.50" y1="576.90" x2="698.90" y2="585.90" stroke-width="1.2"/>
<line x1="682.50" y1="587.50" x2="698.90" y2="596.50" stroke-width="1.2"/>
<line x1="682.80" y1="688.70" x2="699.20" y2="697.70" stroke-width="1.2"/>
<line x1="682.80" y1="699.50" x2="699.20" y2="708.50" stroke-width="1.2"/>
<line x1="682.80" y1="678.10" x2="691.00" y2="682.60" stroke-width="1.2"/>
<line x1="438.70" y1="655.70" x2="448.10" y2="639.90" stroke-width="1.2"/>
<line x1="449.70" y1="655.70" x2="459.10" y2="639.90" stroke-width="1.2"/>
<line x1="662.60" y1="742.40" x2="672.60" y2="726.20" stroke-width="1.2"/>
<line x1="673.80" y1="742.40" x2="683.80" y2="726.20" stroke-width="1.2"/>
<rect x="430.9" y="556.3" width="260.20000000000005" height="682.7" fill="none" stroke-width="4.5"/>
<circle cx="430.90" cy="556.40" r="6.8" fill="#000" stroke-width="0"/>
<rect x="430.50" y="558.60" width="2.6" height="0.9" fill="#ddd" stroke="none"/>
<circle cx="691.10" cy="556.30" r="6.8" fill="#000" stroke-width="0"/>
<rect x="690.70" y="558.50" width="2.6" height="0.9" fill="#ddd" stroke="none"/>
<circle cx="430.90" cy="1239.60" r="6.8" fill="#000" stroke-width="0"/>
<rect x="430.50" y="1241.80" width="2.6" height="0.9" fill="#ddd" stroke="none"/>
<circle cx="691.10" cy="1239.40" r="6.8" fill="#000" stroke-width="0"/>
<rect x="690.70" y="1241.60" width="2.6" height="0.9" fill="#ddd" stroke="none"/>
<circle cx="483.10" cy="1239.00" r="3" fill="#000" stroke-width="0"/>
<circle cx="588.30" cy="1239.00" r="3" fill="#000" stroke-width="0"/>
<path d="M592.6,734.4 L592.6,728.8 A5.6,5.6 0 1 1 587.0,734.4 Z" stroke-width="0.3" fill="#000"/>
<line x1="592.60" y1="720.80" x2="592.60" y2="728.80" stroke-width="1.0"/>
<line x1="588.00" y1="740.00" x2="588.00" y2="747.60" stroke-width="1.0"/>
<text class="sa" transform="translate(589.60,732.60) rotate(-90.00)" font-size="12" textLength="17.60" lengthAdjust="spacingAndGlyphs">3½"</text>
<path d="M508,932.4 L502.4,932.4 A5.6,5.6 0 1 1 508,938.0 Z" stroke-width="0.3" fill="#000"/>
<line x1="503.00" y1="919.80" x2="503.00" y2="927.80" stroke-width="1.0"/>
<line x1="508.00" y1="938.00" x2="508.00" y2="945.00" stroke-width="1.0"/>
<text class="sa" transform="translate(503.60,952.60) rotate(-90.00)" font-size="12" textLength="17.20" lengthAdjust="spacingAndGlyphs">3½"</text>
<path d="M644.3,988.8 L638.6999999999999,988.8 A5.6,5.6 0 1 1 644.3,994.4 Z" stroke-width="0.3" fill="#000"/>
<line x1="639.30" y1="976.20" x2="639.30" y2="984.20" stroke-width="1.0"/>
<line x1="644.30" y1="994.40" x2="644.30" y2="1001.40" stroke-width="1.0"/>
<text class="sa" transform="translate(641.20,1009.30) rotate(-90.00)" font-size="12" textLength="17.20" lengthAdjust="spacingAndGlyphs">3½"</text>
<rect x="598.20" y="745.00" width="40.30" height="16.40" stroke-width="1.0" fill="#fff"/>
<text class="sa" x="601.83" y="757.02" font-size="11.5" textLength="33.05" lengthAdjust="spacingAndGlyphs">645.41</text>
<path d="M638.5,752.8 C646,753.5 648.2,750 648.8,744 C649.2,739 650,734.6 651.2,731.6" stroke-width="1.2" fill="none"/>
<circle cx="651.20" cy="731.50" r="2.3" fill="#000" stroke-width="0"/>
<rect x="702.30" y="620.60" width="40.20" height="15.80" stroke-width="1.0" fill="#fff"/>
<text class="sa" x="707.72" y="632.32" font-size="11.5" textLength="29.35" lengthAdjust="spacingAndGlyphs">642.7</text>
<path d="M702.3,628.6 C695.5,629 692,633.5 689,640 C686.5,645.5 684,650 681.3,653.8" stroke-width="1.2" fill="none"/>
<circle cx="681.20" cy="653.90" r="2.2" fill="#000" stroke-width="0"/>
<rect x="540.00" y="966.60" width="40.30" height="16.00" stroke-width="1.0" fill="#fff"/>
<text class="sa" x="543.62" y="978.42" font-size="11.5" textLength="33.05" lengthAdjust="spacingAndGlyphs">645.41</text>
<path d="M580.3,974.2 C591,974.6 594.6,969 597.4,961 C599.4,955.4 601,951 602.6,948" stroke-width="1.2" fill="none"/>
<circle cx="602.60" cy="947.80" r="2.3" fill="#000" stroke-width="0"/>
<rect x="549.60" y="997.00" width="39.80" height="15.00" stroke-width="1.0" fill="#fff"/>
<text class="sa" x="553.23" y="1008.32" font-size="11.5" textLength="32.55" lengthAdjust="spacingAndGlyphs">645.41</text>
<path d="M589.4,1004 C598,1004.2 604,1000.6 611.2,993" stroke-width="1.2" fill="none"/>
<circle cx="611.30" cy="992.80" r="2.3" fill="#000" stroke-width="0"/>
<rect x="516.70" y="1074.00" width="40.00" height="15.50" stroke-width="1.0" fill="#fff"/>
<text class="sa" x="520.33" y="1085.57" font-size="11.5" textLength="32.75" lengthAdjust="spacingAndGlyphs">645.12</text>
<path d="M537.4,1089.5 C537.6,1095 538.4,1100 538.4,1105.6" stroke-width="1.2" fill="none"/>
<circle cx="538.40" cy="1105.80" r="2.3" fill="#000" stroke-width="0"/>
<rect x="379.60" y="1119.40" width="40.00" height="15.00" stroke-width="1.0" fill="#fff"/>
<text class="sa" x="385.63" y="1130.72" font-size="11.5" textLength="27.95" lengthAdjust="spacingAndGlyphs">644.5</text>
<path d="M419.6,1126.4 C428,1126.2 433,1120.6 440.6,1109.6" stroke-width="1.2" fill="none"/>
<circle cx="440.70" cy="1109.40" r="2.3" fill="#000" stroke-width="0"/>
<rect x="489.60" y="1249.00" width="40.30" height="15.80" stroke-width="1.0" fill="#fff"/>
<text class="sa" x="493.23" y="1260.72" font-size="11.5" textLength="33.05" lengthAdjust="spacingAndGlyphs">643.20</text>
<path d="M489.6,1256.8 C485.6,1256.8 484.6,1254 484.2,1250 L483.3,1241" stroke-width="1.2" fill="none"/>
<rect x="541.60" y="1249.00" width="40.00" height="15.80" stroke-width="1.0" fill="#fff"/>
<text class="sa" x="545.23" y="1260.72" font-size="11.5" textLength="32.75" lengthAdjust="spacingAndGlyphs">643.10</text>
<path d="M581.6,1256.8 C585.6,1256.8 586.6,1254 587.2,1250 L588.2,1241" stroke-width="1.2" fill="none"/>
<rect x="702.40" y="1205.80" width="40.00" height="16.00" stroke-width="1.0" fill="#fff"/>
<text class="sa" x="708.42" y="1217.62" font-size="11.5" textLength="27.95" lengthAdjust="spacingAndGlyphs">643.0</text>
<path d="M702.4,1213.8 C695,1214 690.8,1219.4 682.2,1229.2" stroke-width="1.2" fill="none"/>
<circle cx="682.10" cy="1229.40" r="2.4" fill="#000" stroke-width="0"/>
<rect x="511.50" y="859.60" width="103.50" height="19.80" stroke-width="1.8" fill="#fff"/>
<text class="sabx" x="517.57" y="875.40" font-size="16.5" textLength="90.36" lengthAdjust="spacingAndGlyphs">F.F.=645.70</text>
<text class="sam" x="524.50" y="790.30" font-size="24" textLength="72.90" lengthAdjust="spacingAndGlyphs">LOT 4</text>
<text class="seim" x="509.20" y="810.30" font-size="16.4" textLength="107.80" lengthAdjust="spacingAndGlyphs">CC–2260–CL</text>
<text class="sa" x="486.10" y="830.30" font-size="16" textLength="154.70" lengthAdjust="spacingAndGlyphs">DRAINAGE TYPE 'B'</text>
<text class="sa" x="600.92" y="685.90" font-size="11.5" textLength="21.65" lengthAdjust="spacingAndGlyphs">COV.</text>
<text class="sa" x="597.62" y="697.40" font-size="11.5" textLength="28.65" lengthAdjust="spacingAndGlyphs">CONC.</text>
<text class="sa" transform="translate(640.20,699.60) rotate(-90.00)" font-size="9.5" textLength="8.50" lengthAdjust="spacingAndGlyphs">2"</text>
<text class="sa" x="570.12" y="1026.40" font-size="11.5" textLength="21.45" lengthAdjust="spacingAndGlyphs">COV.</text>
<text class="sa" x="566.42" y="1038.20" font-size="11.5" textLength="28.55" lengthAdjust="spacingAndGlyphs">CONC.</text>
<path d="M594.6,1034 C604,1034.4 612,1029.6 618,1024.8" stroke-width="1.2" fill="none"/>
<path d="M624.60,1020.40 L614.40,1024.40 L617.20,1027.80 Z" stroke-width="0.3" fill="#000"/>
<text class="sa" transform="translate(535.20,1027.60) rotate(-90.00)" font-size="10" textLength="8.50" lengthAdjust="spacingAndGlyphs">2"</text>
<text class="sa" transform="translate(624.60,1010.40) rotate(-90.00)" font-size="9" textLength="8.00" lengthAdjust="spacingAndGlyphs">2"</text>
<text class="sa" transform="translate(447.60,903.73) rotate(-90.00)" font-size="10.5" textLength="30.85" lengthAdjust="spacingAndGlyphs">AC ON</text>
<text class="sa" transform="translate(459.70,903.12) rotate(-90.00)" font-size="10.5" textLength="28.85" lengthAdjust="spacingAndGlyphs">CONC.</text>
<text class="sa" x="524.32" y="1141.60" font-size="11.5" textLength="22.45" lengthAdjust="spacingAndGlyphs">16.3'</text>
<text class="sa" x="522.22" y="1153.00" font-size="11.5" textLength="28.15" lengthAdjust="spacingAndGlyphs">CONC.</text>
<text class="sa" x="522.22" y="1164.80" font-size="11.5" textLength="27.15" lengthAdjust="spacingAndGlyphs">DRIVE</text>
<text class="sa" x="637.12" y="1147.80" font-size="11.5" textLength="7.65" lengthAdjust="spacingAndGlyphs">4'</text>
<text class="sa" x="626.82" y="1158.80" font-size="11.5" textLength="29.05" lengthAdjust="spacingAndGlyphs">CONC.</text>
<text class="sa" x="628.62" y="1169.70" font-size="11.5" textLength="25.25" lengthAdjust="spacingAndGlyphs">WALK</text>
<path d="M636.6,1144.8 C626,1145.6 621.4,1139 617.2,1130 C615,1125.4 612.6,1121.6 610.6,1118.8" stroke-width="1.2" fill="none"/>
<path d="M607.80,1114.80 L609.60,1123.60 L614.20,1120.80 Z" stroke-width="0.3" fill="#000"/>
<text class="sa" x="607.32" y="1292.90" font-size="11.5" textLength="73.85" lengthAdjust="spacingAndGlyphs" xml:space="preserve">4' CONC. WALK</text>
<text class="sa" x="632.32" y="1317.40" font-size="11.5" textLength="25.65" lengthAdjust="spacingAndGlyphs">CURB</text>
<text class="sa" x="729.82" y="1283.90" font-size="11.5" textLength="26.95" lengthAdjust="spacingAndGlyphs">LIGHT</text>
<text class="sa" x="731.22" y="1295.30" font-size="11.5" textLength="24.55" lengthAdjust="spacingAndGlyphs">POLE</text>
<path d="M729,1280.1 C718,1280.4 712,1273 704.6,1267.6" stroke-width="1.2" fill="none"/>
<path d="M698.00,1263.20 L704.00,1270.00 L707.40,1265.40 Z" stroke-width="0.3" fill="#000"/>
<circle cx="693.10" cy="1260.80" r="4.3" fill="#fff" stroke-width="1.0"/>
<line x1="697.40" y1="1260.80" x2="700.90" y2="1260.80" stroke-width="1.2"/>
<line x1="696.14" y1="1263.84" x2="698.62" y2="1266.32" stroke-width="1.2"/>
<line x1="693.10" y1="1265.10" x2="693.10" y2="1268.60" stroke-width="1.2"/>
<line x1="690.06" y1="1263.84" x2="687.58" y2="1266.32" stroke-width="1.2"/>
<line x1="688.80" y1="1260.80" x2="685.30" y2="1260.80" stroke-width="1.2"/>
<line x1="690.06" y1="1257.76" x2="687.58" y2="1255.28" stroke-width="1.2"/>
<line x1="693.10" y1="1256.50" x2="693.10" y2="1253.00" stroke-width="1.2"/>
<line x1="696.14" y1="1257.76" x2="698.62" y2="1255.28" stroke-width="1.2"/>
<text class="sa" transform="translate(495.90,1206.53) rotate(-90.00)" font-size="10.5" textLength="22.45" lengthAdjust="spacingAndGlyphs">9.4%</text>
<line x1="499.10" y1="1180.60" x2="499.10" y2="1224.40" stroke-width="1.2"/>
<path d="M499.10,1211.80 L493.10,1213.40 L499.10,1224.40" stroke-width="0.9" fill="none"/>
<text class="sa" transform="translate(510.50,1209.53) rotate(-90.00)" font-size="10.5" textLength="28.85" lengthAdjust="spacingAndGlyphs">SLOPE</text>
<text class="sa" transform="translate(567.20,1206.53) rotate(-90.00)" font-size="10.5" textLength="22.45" lengthAdjust="spacingAndGlyphs">9.8%</text>
<line x1="570.60" y1="1180.60" x2="570.60" y2="1224.40" stroke-width="1.2"/>
<path d="M570.60,1211.80 L564.60,1213.40 L570.60,1224.40" stroke-width="0.9" fill="none"/>
<text class="sa" transform="translate(581.50,1209.53) rotate(-90.00)" font-size="10.5" textLength="28.85" lengthAdjust="spacingAndGlyphs">SLOPE</text>
<line x1="598.90" y1="1109.50" x2="598.90" y2="1183.60" stroke-width="1.2"/>
<line x1="598.90" y1="1217.40" x2="598.90" y2="1275.40" stroke-width="1.2"/>
<path d="M598.90,1109.80 L600.80,1119.80 L597.00,1119.80 Z" stroke-width="0.3" fill="#000"/>
<path d="M598.90,1275.40 L597.00,1265.40 L600.80,1265.40 Z" stroke-width="0.3" fill="#000"/>
<text class="sa" transform="translate(603.60,1215.40) rotate(-90.00)" font-size="12.5" textLength="28.80" lengthAdjust="spacingAndGlyphs">26.0'</text>
<text class="sa" x="232.73" y="542.00" font-size="11.5" textLength="61.75" lengthAdjust="spacingAndGlyphs">10' BUILDING</text>
<text class="sa" x="228.53" y="554.30" font-size="11.5" textLength="68.05" lengthAdjust="spacingAndGlyphs">SETBACK LINE</text>
<path d="M296.4,550 C300.6,550 301.4,553 302.4,558 L305.4,567.6" stroke-width="1.2" fill="none"/>
<path d="M308.40,577.60 L303.00,567.40 L307.60,566.20 Z" stroke-width="0.3" fill="#000"/>
<text class="sa" x="348.73" y="628.70" font-size="11.5" textLength="56.45" lengthAdjust="spacingAndGlyphs">5' BUILDING</text>
<text class="sa" x="343.73" y="641.80" font-size="11.5" textLength="68.35" lengthAdjust="spacingAndGlyphs">SETBACK LINE</text>
<path d="M414.4,638.7 H424 C432,638.5 440,634.4 451.4,630.4" stroke-width="1.2" fill="none"/>
<path d="M462.80,626.80 L450.60,628.20 L451.80,632.80 Z" stroke-width="0.3" fill="#000"/>
<text class="sa" x="705.22" y="678.00" font-size="11.5" textLength="56.55" lengthAdjust="spacingAndGlyphs">5' BUILDING</text>
<text class="sa" x="700.22" y="691.20" font-size="11.5" textLength="68.55" lengthAdjust="spacingAndGlyphs">SETBACK LINE</text>
<path d="M704.4,674.4 H697 C688,675 679,680.6 670.4,683.8" stroke-width="1.2" fill="none"/>
<path d="M659.00,687.80 L670.80,686.20 L669.40,681.60 Z" stroke-width="0.3" fill="#000"/>
<text class="sa" x="214.43" y="1081.40" font-size="11.5" textLength="62.55" lengthAdjust="spacingAndGlyphs">20' BUILDING</text>
<text class="sa" x="210.62" y="1093.80" font-size="11.5" textLength="67.95" lengthAdjust="spacingAndGlyphs">SETBACK LINE</text>
<path d="M279,1090 C288,1090 293,1094.6 301.4,1103" stroke-width="1.2" fill="none"/>
<path d="M308.60,1108.80 L299.60,1104.60 L303.20,1100.80 Z" stroke-width="0.3" fill="#000"/>
<text class="sa" x="227.43" y="1165.80" font-size="11.5" textLength="53.65" lengthAdjust="spacingAndGlyphs">20' UTILITY</text>
<text class="sa" x="228.23" y="1178.80" font-size="11.5" textLength="49.35" lengthAdjust="spacingAndGlyphs">EASEMENT</text>
<path d="M278.6,1173 C296,1173 300.4,1150 304.4,1124" stroke-width="1.2" fill="none"/>
<path d="M307.60,1111.00 L302.20,1123.20 L306.80,1124.40 Z" stroke-width="0.3" fill="#000"/>
<path d="M278.6,1173 C296,1173 300.4,1200 304.2,1225" stroke-width="1.2" fill="none"/>
<path d="M307.40,1237.60 L302.00,1225.60 L306.60,1224.40 Z" stroke-width="0.3" fill="#000"/>
<text class="sa" x="364.03" y="1154.70" font-size="11.5" textLength="33.45" lengthAdjust="spacingAndGlyphs">A.T.&amp;T.</text>
<text class="sa" x="371.43" y="1165.40" font-size="11.5" textLength="18.65" lengthAdjust="spacingAndGlyphs">BOX</text>
<path d="M390.4,1160.7 C410,1160.8 425,1168 441.6,1174.6" stroke-width="1.2" fill="none"/>
<rect x="441.70" y="1172.70" width="6.30" height="6.30" stroke-width="0.9" fill="#fff"/>
<text class="sa" x="344.43" y="1193.30" font-size="11.5" textLength="49.15" lengthAdjust="spacingAndGlyphs">SPECTRUM</text>
<text class="sa" x="359.82" y="1205.20" font-size="11.5" textLength="18.75" lengthAdjust="spacingAndGlyphs">BOX</text>
<path d="M379.2,1202.4 C392,1202.6 398,1192 406.6,1184.6" stroke-width="1.2" fill="none"/>
<path d="M414.40,1178.60 L404.80,1182.60 L408.00,1186.40 Z" stroke-width="0.3" fill="#000"/>
<rect x="404.80" y="1172.00" width="19.50" height="13.30" stroke-width="1.2" fill="none"/>
<text class="sa" x="340.03" y="1222.60" font-size="11.5" textLength="27.55" lengthAdjust="spacingAndGlyphs">GVEC.</text>
<text class="sa" x="339.03" y="1234.60" font-size="11.5" textLength="28.95" lengthAdjust="spacingAndGlyphs">VAULT</text>
<path d="M368,1230.4 C376,1230.2 381,1224 388.4,1219.8" stroke-width="1.2" fill="none"/>
<path d="M396.20,1216.40 L386.40,1217.80 L388.20,1222.20 Z" stroke-width="0.3" fill="#000"/>
<rect x="396.00" y="1212.50" width="9.80" height="6.50" stroke-width="1.2" fill="none"/>
<path d="M383.90,1243.00 L404.80,1257.30 L404.80,1243.00 L383.90,1257.30 Z" stroke-width="1.0" fill="none"/>
<text class="sab" x="385.90" y="1266.30" font-size="10" textLength="19.90" lengthAdjust="spacingAndGlyphs">WM.</text>
<path d="M453.70,1245.00 L474.50,1259.60 L474.50,1245.00 L453.70,1259.60 Z" stroke-width="1.0" fill="none"/>
<text class="sab" x="455.60" y="1268.00" font-size="10" textLength="19.40" lengthAdjust="spacingAndGlyphs">WM.</text>
<line x1="483.10" y1="1239.00" x2="470.50" y2="1305.40" stroke-width="1.2"/>
<line x1="588.30" y1="1239.00" x2="601.60" y2="1305.40" stroke-width="1.2"/>
<line x1="430.40" y1="1275.50" x2="475.80" y2="1275.50" stroke-width="1.0"/>
<line x1="596.20" y1="1275.50" x2="691.10" y2="1275.50" stroke-width="1.0"/>
<line x1="422.20" y1="1301.50" x2="693.50" y2="1301.50" stroke-width="1.35"/>
<line x1="422.20" y1="1305.30" x2="693.50" y2="1305.30" stroke-width="1.35"/>
<line x1="426.30" y1="1297.60" x2="426.30" y2="1306.60" stroke-width="1.2"/>
<line x1="562.80" y1="1297.60" x2="562.80" y2="1306.60" stroke-width="1.2"/>
<line x1="690.00" y1="1297.00" x2="690.00" y2="1306.60" stroke-width="1.2"/>
<text class="sa" transform="translate(409.58,1339.39) rotate(-55.84)" font-size="9.4" textLength="33.84" lengthAdjust="spacingAndGlyphs">T.O.C.=</text>
<text class="sa" transform="translate(420.91,1340.25) rotate(-56.74)" font-size="9.4" textLength="33.01" lengthAdjust="spacingAndGlyphs">642.95</text>
<text class="sa" transform="translate(430.81,1341.14) rotate(-56.76)" font-size="9.4" textLength="28.10" lengthAdjust="spacingAndGlyphs">GUT.=</text>
<text class="sa" transform="translate(439.91,1342.05) rotate(-56.74)" font-size="9.4" textLength="33.01" lengthAdjust="spacingAndGlyphs">642.48</text>
<text class="sa" transform="translate(539.58,1339.39) rotate(-55.84)" font-size="9.4" textLength="33.84" lengthAdjust="spacingAndGlyphs">T.O.C.=</text>
<text class="sa" transform="translate(550.91,1340.25) rotate(-56.74)" font-size="9.4" textLength="33.01" lengthAdjust="spacingAndGlyphs">642.81</text>
<text class="sa" transform="translate(560.81,1341.14) rotate(-56.76)" font-size="9.4" textLength="28.10" lengthAdjust="spacingAndGlyphs">GUT.=</text>
<text class="sa" transform="translate(569.91,1342.05) rotate(-56.74)" font-size="9.4" textLength="33.01" lengthAdjust="spacingAndGlyphs">642.32</text>
<text class="sa" transform="translate(673.38,1339.39) rotate(-55.84)" font-size="9.4" textLength="33.84" lengthAdjust="spacingAndGlyphs">T.O.C.=</text>
<text class="sa" transform="translate(684.71,1340.25) rotate(-56.74)" font-size="9.4" textLength="33.01" lengthAdjust="spacingAndGlyphs">642.73</text>
<text class="sa" transform="translate(694.61,1341.14) rotate(-56.76)" font-size="9.4" textLength="28.10" lengthAdjust="spacingAndGlyphs">GUT.=</text>
<text class="sa" transform="translate(703.71,1342.05) rotate(-56.74)" font-size="9.4" textLength="33.01" lengthAdjust="spacingAndGlyphs">642.23</text>
<text class="sa" transform="translate(408.45,595.31) rotate(-52.79)" font-size="9.3" textLength="33.40" lengthAdjust="spacingAndGlyphs">642.60</text>
<text class="sa" transform="translate(439.45,599.11) rotate(-52.79)" font-size="9.3" textLength="33.40" lengthAdjust="spacingAndGlyphs">642.59</text>
<text class="sa" transform="translate(462.30,601.64) rotate(-54.27)" font-size="9.3" textLength="39.05" lengthAdjust="spacingAndGlyphs">+643.26</text>
<text class="sa" transform="translate(565.17,639.24) rotate(-56.35)" font-size="9.3" textLength="40.24" lengthAdjust="spacingAndGlyphs">+643.76</text>
<text class="sa" transform="translate(664.73,592.71) rotate(-54.97)" font-size="9.3" textLength="35.54" lengthAdjust="spacingAndGlyphs">642.50</text>
<text class="sa" transform="translate(437.46,848.60) rotate(-53.09)" font-size="9.3" textLength="32.64" lengthAdjust="spacingAndGlyphs">643.69</text>
<text class="sa" transform="translate(441.86,861.60) rotate(-53.13)" font-size="9.3" textLength="32.50" lengthAdjust="spacingAndGlyphs">644.39</text>
<line x1="452.40" y1="848.80" x2="458.00" y2="848.80" stroke-width="0.8"/>
<line x1="455.20" y1="846.00" x2="455.20" y2="851.60" stroke-width="0.8"/>
<line x1="424.60" y1="850.20" x2="433.00" y2="850.20" stroke-width="0.8"/>
<text class="sa" transform="translate(566.35,1104.62) rotate(-52.73)" font-size="9.3" textLength="34.68" lengthAdjust="spacingAndGlyphs">644.26</text>
<line x1="563.60" y1="1101.00" x2="563.60" y2="1106.00" stroke-width="0.8"/>
<text class="sa" transform="translate(673.45,1143.52) rotate(-58.80)" font-size="9.3" textLength="32.62" lengthAdjust="spacingAndGlyphs">643.79</text>
<line x1="692.40" y1="1107.00" x2="698.40" y2="1107.00" stroke-width="0.8"/>
<line x1="695.40" y1="1104.00" x2="695.40" y2="1110.00" stroke-width="0.8"/>
<text class="sa" transform="translate(680.60,643.26) rotate(-90.00)" font-size="9.3" textLength="33.93" lengthAdjust="spacingAndGlyphs">642.47</text>
<line x1="681.60" y1="629.20" x2="687.80" y2="629.20" stroke-width="0.8"/>
<line x1="684.70" y1="626.20" x2="684.70" y2="632.20" stroke-width="0.8"/>
<text class="sa" transform="translate(668.20,848.47) rotate(-90.00)" font-size="9.3" textLength="33.43" lengthAdjust="spacingAndGlyphs">644.08</text>
<line x1="652.60" y1="847.40" x2="659.40" y2="847.40" stroke-width="0.8"/>
<text class="sa" transform="translate(680.50,851.47) rotate(-90.00)" font-size="9.3" textLength="40.03" lengthAdjust="spacingAndGlyphs">+643.31</text>
<text class="sa" transform="translate(701.10,852.87) rotate(-90.00)" font-size="9.3" textLength="40.73" lengthAdjust="spacingAndGlyphs">+643.25</text>
<text class="sa" x="524.53" y="550.80" font-size="9.3" textLength="42.33" lengthAdjust="spacingAndGlyphs">642.27+</text>
<text class="sa" x="613.53" y="635.90" font-size="9.3" textLength="42.73" lengthAdjust="spacingAndGlyphs">643.98+</text>
<text class="sa" x="559.24" y="852.30" font-size="9.3" textLength="40.43" lengthAdjust="spacingAndGlyphs">+644.16</text>
<text class="sa" x="393.04" y="1103.60" font-size="9.3" textLength="33.73" lengthAdjust="spacingAndGlyphs">644.53</text>
<text class="sa" x="390.44" y="1233.80" font-size="9.3" textLength="33.83" lengthAdjust="spacingAndGlyphs">643.25</text>
<text class="sa" x="521.83" y="1235.40" font-size="9.3" textLength="37.83" lengthAdjust="spacingAndGlyphs">643.73,</text>
<text class="sa" x="698.43" y="1251.40" font-size="9.3" textLength="33.83" lengthAdjust="spacingAndGlyphs">643.36</text>
<g stroke="#7a7a7a" stroke-width="1.4">
<line x1="35.5" y1="1399.8" x2="270.0" y2="1399.8"/>
<line x1="32.5" y1="1420.25" x2="270.0" y2="1420.25"/>
<line x1="32.5" y1="1440.62" x2="270.0" y2="1440.62"/>
<line x1="32.5" y1="1460.99" x2="270.0" y2="1460.99"/>
<line x1="32.5" y1="1481.36" x2="270.0" y2="1481.36"/>
<line x1="32.5" y1="1501.73" x2="270.0" y2="1501.73"/>
<line x1="32.5" y1="1522.10" x2="270.0" y2="1522.10"/>
<line x1="32.5" y1="1542.47" x2="270.0" y2="1542.47"/>
<line x1="32.5" y1="1562.84" x2="270.0" y2="1562.84"/>
<line x1="32.5" y1="1583.21" x2="270.0" y2="1583.21"/>
<line x1="32.5" y1="1603.58" x2="270.0" y2="1603.58"/>
<line x1="32.5" y1="1623.95" x2="270.0" y2="1623.95"/>
<line x1="32.5" y1="1644.32" x2="270.0" y2="1644.32"/>
<line x1="32.5" y1="1664.69" x2="270.0" y2="1664.69"/>
<line x1="32.5" y1="1685.06" x2="270.0" y2="1685.06"/>
<line x1="32.5" y1="1705.43" x2="270.0" y2="1705.43"/>
<line x1="32.5" y1="1725.80" x2="270.0" y2="1725.80"/>
<line x1="32.5" y1="1746.17" x2="270.0" y2="1746.17"/>
<line x1="32.5" y1="1766.54" x2="270.0" y2="1766.54"/>
<line x1="270.0" y1="1399.8" x2="270.0" y2="1784"/>
<line x1="185.5" y1="1420.25" x2="185.5" y2="1788.5"/>
</g>
<text class="areas" transform="translate(115.8,1415.6) scale(0.76,1)" font-size="17.8" textLength="92.4" lengthAdjust="spacing">AREAS</text>
<text class="tb" x="40.75" y="1437.30" font-size="16.75" textLength="64.75" lengthAdjust="spacingAndGlyphs">DRIVEWAY</text>
<text class="tb" x="198.25" y="1437.30" font-size="16.75" textLength="70.25" lengthAdjust="spacingAndGlyphs">333 SQ. FT.</text>
<text class="tb" x="40.75" y="1457.61" font-size="16.75" textLength="69.00" lengthAdjust="spacingAndGlyphs">APPROACH</text>
<text class="tb" x="198.25" y="1457.61" font-size="16.75" textLength="70.25" lengthAdjust="spacingAndGlyphs">185 SQ. FT.</text>
<text class="tb" x="40.75" y="1477.92" font-size="16.75" textLength="72.25" lengthAdjust="spacingAndGlyphs">LEAD WALK</text>
<text class="tb" x="206.50" y="1477.92" font-size="16.75" textLength="62.00" lengthAdjust="spacingAndGlyphs">86 SQ. FT.</text>
<text class="tb" x="40.75" y="1498.23" font-size="16.75" textLength="84.75" lengthAdjust="spacingAndGlyphs">PUBLIC WALK</text>
<text class="tb" x="206.50" y="1498.23" font-size="16.75" textLength="62.00" lengthAdjust="spacingAndGlyphs">83 SQ. FT.</text>
<text class="tb" x="40.75" y="1518.54" font-size="16.75" textLength="36.50" lengthAdjust="spacingAndGlyphs">PATIO</text>
<text class="tb" x="244.50" y="1518.54" font-size="16.75" textLength="22.25" lengthAdjust="spacingAndGlyphs">N/A</text>
<text class="tb" x="40.75" y="1538.85" font-size="16.75" textLength="72.25" lengthAdjust="spacingAndGlyphs">HVAC PADS</text>
<text class="tb" x="206.50" y="1538.85" font-size="16.75" textLength="62.00" lengthAdjust="spacingAndGlyphs">16 SQ. FT.</text>
<text class="tb" x="40.75" y="1559.16" font-size="16.75" textLength="39.25" lengthAdjust="spacingAndGlyphs">TOTAL</text>
<text class="tb" x="198.25" y="1559.16" font-size="16.75" textLength="70.25" lengthAdjust="spacingAndGlyphs">703 SQ. FT.</text>
<text class="tb" x="40.75" y="1599.78" font-size="16.75" textLength="71.50" lengthAdjust="spacingAndGlyphs">FRONT SOD</text>
<text class="tb" x="198.25" y="1599.78" font-size="16.75" textLength="70.25" lengthAdjust="spacingAndGlyphs">155 SQ. YD.</text>
<text class="tb" x="40.75" y="1620.09" font-size="16.75" textLength="63.00" lengthAdjust="spacingAndGlyphs">REAR SOD</text>
<text class="tb" x="206.50" y="1620.09" font-size="16.75" textLength="62.00" lengthAdjust="spacingAndGlyphs">71 SQ. YD.</text>
<text class="tb" x="40.75" y="1660.71" font-size="16.75" textLength="82.75" lengthAdjust="spacingAndGlyphs">TOTAL FENCE</text>
<text class="tb" x="206.50" y="1660.71" font-size="16.75" textLength="62.00" lengthAdjust="spacingAndGlyphs">92 LN. FT.</text>
<text class="tb" x="40.75" y="1701.33" font-size="16.75" textLength="126.00" lengthAdjust="spacingAndGlyphs">AVERAGE EXPOSURE</text>
<text class="tb" x="248.75" y="1701.33" font-size="16.75" textLength="19.36" lengthAdjust="spacingAndGlyphs">21"</text>
<text class="tb" x="40.75" y="1721.64" font-size="16.75" textLength="80.50" lengthAdjust="spacingAndGlyphs">DRIVE SLOPE</text>
<text class="tb" x="238.25" y="1721.64" font-size="16.75" textLength="30.25" lengthAdjust="spacingAndGlyphs">9.8%</text>
<text class="tb" x="40.75" y="1741.95" font-size="16.75" textLength="68.50" lengthAdjust="spacingAndGlyphs">SLAB AREA</text>
<text class="tb" x="187.00" y="1741.95" font-size="16.75" textLength="81.50" lengthAdjust="spacingAndGlyphs">1,962 SQ. FT.</text>
<text class="tb" x="40.75" y="1762.26" font-size="16.75" textLength="59.75" lengthAdjust="spacingAndGlyphs">LOT AREA</text>
<text class="tb" x="187.00" y="1762.26" font-size="16.75" textLength="81.50" lengthAdjust="spacingAndGlyphs">4,200 SQ. FT.</text>
<text class="sebi" x="436.00" y="1612.30" font-size="17" textLength="125.50" lengthAdjust="spacingAndGlyphs" xml:space="preserve">SITE PLAN OF</text>
<text class="sebi" x="393.50" y="1629.80" font-size="17" textLength="211.00" lengthAdjust="spacingAndGlyphs" xml:space="preserve">4314 CLARISSE STREET</text>
<text class="sebi" x="422.75" y="1647.30" font-size="17" textLength="153.00" lengthAdjust="spacingAndGlyphs" xml:space="preserve">LOT 4, BLOCK 10</text>
<text class="seim2" x="376.00" y="1666.80" font-size="22" textLength="246.75" lengthAdjust="spacingAndGlyphs" xml:space="preserve">PARK PLACE, UNIT 1B</text>
<text class="sebi" x="376.00" y="1684.80" font-size="17" textLength="244.75" lengthAdjust="spacingAndGlyphs" xml:space="preserve">GUADALUPE COUNTY, TEXAS</text>
<text class="sa" x="438.35" y="1720.80" font-size="13" textLength="73.10" lengthAdjust="spacingAndGlyphs" xml:space="preserve">DRAWN BY:</text>
<text class="sa" x="531.65" y="1718.60" font-size="13" textLength="23.50" lengthAdjust="spacingAndGlyphs">R.A.</text>
<line x1="517.80" y1="1721.80" x2="561.50" y2="1721.80" stroke-width="1.2"/>
<text class="sa" x="438.35" y="1739.80" font-size="13" textLength="88.30" lengthAdjust="spacingAndGlyphs" xml:space="preserve">CHECKED BY:</text>
<text class="sa" x="542.35" y="1737.00" font-size="13" textLength="25.10" lengthAdjust="spacingAndGlyphs">W.J.</text>
<line x1="533.20" y1="1740.80" x2="577.20" y2="1740.80" stroke-width="1.2"/>
<text class="sa" x="438.35" y="1758.30" font-size="13" textLength="34.60" lengthAdjust="spacingAndGlyphs">DATE:</text>
<text class="sa" x="488.55" y="1756.20" font-size="13" textLength="75.80" lengthAdjust="spacingAndGlyphs">1/31/2025</text>
<line x1="480.00" y1="1759.30" x2="584.00" y2="1759.30" stroke-width="1.2"/>
<line x1="696.4" y1="1700.4" x2="1070" y2="1700.4" stroke="#231f20" stroke-width="2.5"/>
<path d="M738.41,1748.37 A71.6,71.6 0 1 1 837.89,1749.24 L828.39,1739.23 A57.8,57.8 0 1 0 748.09,1738.53 Z" fill="#d2582e" stroke="#231f20" stroke-width="1.0"/>
<path d="M831.43,1755.18 A72,72 0 0 1 745.77,1755.18 L754.22,1743.76 A57.8,57.8 0 0 0 822.98,1743.76 Z" fill="#231f20" stroke="#231f20" stroke-width="0.6"/>
<circle cx="788.6" cy="1697.3" r="40.4" fill="none" stroke="#231f20" stroke-width="10.6"/>
<path d="M777.69,1667.36 L800.05,1667.36 L808.30,1675.95 L808.30,1685.76 L797.29,1685.76 L797.29,1678.53 L780.79,1678.53 L780.79,1689.71 L800.05,1689.71 L808.30,1697.79 L808.30,1718.08 L800.05,1726.68 L777.69,1726.68 L769.09,1718.08 L769.09,1708.62 L780.10,1708.62 L780.10,1715.67 L797.29,1715.67 L797.29,1703.64 L777.69,1703.64 L769.09,1695.38 L769.09,1675.95 Z" fill="#d2582e" stroke="#231f20" stroke-width="0.9"/>
<line x1="788.5" y1="1608.8" x2="788.5" y2="1785" stroke="#231f20" stroke-width="5.6" stroke-linecap="round"/>
<text class="thin2" x="887.34" y="1674.00" font-size="21" textLength="148.72" lengthAdjust="spacingAndGlyphs" xml:space="preserve">SINCLAIR LAND</text>
<text class="thin2" x="885.54" y="1692.80" font-size="21" textLength="160.72" lengthAdjust="spacingAndGlyphs" xml:space="preserve">SURVEYING, INC.</text>
<text class="sa" x="900.75" y="1716.30" font-size="13" textLength="122.30" lengthAdjust="spacingAndGlyphs" xml:space="preserve">3411 MAGIC DRIVE</text>
<text class="sa" x="866.65" y="1729.60" font-size="13" textLength="191.00" lengthAdjust="spacingAndGlyphs" xml:space="preserve">SAN ANTONIO, TEXAS 78229</text>
<text class="sa" x="912.85" y="1744.50" font-size="13" textLength="98.20" lengthAdjust="spacingAndGlyphs">210–341–4518</text>
<text class="sa" x="873.35" y="1756.60" font-size="13" textLength="177.80" lengthAdjust="spacingAndGlyphs" xml:space="preserve">TBPELS FIRM NO.10089000</text>
<text class="sa" x="866.95" y="1775.30" font-size="13" textLength="198.10" lengthAdjust="spacingAndGlyphs" xml:space="preserve">JOB NUMBER:  S–202579635</text>
</svg>
</body></html>
